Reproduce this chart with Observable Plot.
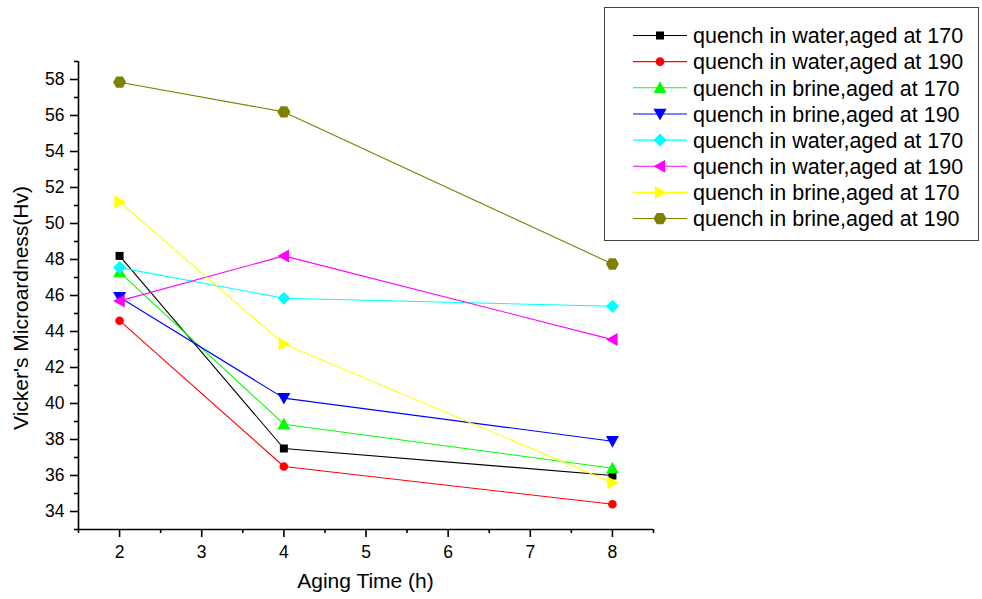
<!DOCTYPE html>
<html>
<head>
<meta charset="utf-8">
<script src="https://cdn.jsdelivr.net/npm/d3@7"></script>
<script src="https://cdn.jsdelivr.net/npm/@observablehq/plot@0.6"></script>
<style>
  html, body { margin: 0; padding: 0; background: #fff; }
  #chart { position: relative; width: 982px; height: 599px; }
  svg { font-family: "Liberation Sans", Arial, sans-serif; }
</style>
</head>
<body>
<div id="chart"></div>
<script>
// ---- data ----
const times = [2, 4, 8];
const seriesNames = [
  "quench in water,aged at 170",
  "quench in water,aged at 190",
  "quench in brine,aged at 170",
  "quench in brine,aged at 190",
  "quench in water,aged at 170",
  "quench in water,aged at 190",
  "quench in brine,aged at 170",
  "quench in brine,aged at 190"
];
const s1 = [48.2, 37.5, 36.0];
const s2 = [44.6, 36.5, 34.4];
const s3 = [47.3, 38.85, 36.4];
const s4 = [45.9, 40.3, 37.9];
const s5 = [47.55, 45.85, 45.4];
const s6 = [45.7, 48.2, 43.55];
const s7 = [51.2, 43.3, 35.6];
const s8 = [57.85, 56.2, 47.75];
const seriesValues = [s1, s2, s3, s4, s5, s6, s7, s8];
const colors = ["#000000", "#ff0000", "#00ff00", "#0000ff", "#00ffff", "#ff00ff", "#ffff00", "#808000"];
const xTicks = [2, 3, 4, 5, 6, 7, 8];
const xMinor = [1.5, 2.5, 3.5, 4.5, 5.5, 6.5, 7.5, 8.5];
const yTicks = [34, 36, 38, 40, 42, 44, 46, 48, 50, 52, 54, 56, 58];
const yMinor = [33, 35, 37, 39, 41, 43, 45, 47, 49, 51, 53, 55, 57, 59];
const xDomain = [1.5, 8.5];
const yDomain = [33, 59];

// ---- custom symbols (size = pi r^2) ----
const R = s => Math.sqrt(s / Math.PI);
const symSquare = {draw(c, s) { const r = R(s); c.rect(-r, -r, 2 * r, 2 * r); }};
const symCircle = {draw(c, s) { const r = R(s); c.moveTo(r, 0); c.arc(0, 0, r, 0, 2 * Math.PI); }};
const symUp = {draw(c, s) { const r = R(s); c.moveTo(0, -r); c.lineTo(r, 0.8 * r); c.lineTo(-r, 0.8 * r); c.closePath(); }};
const symDown = {draw(c, s) { const r = R(s); c.moveTo(0, r); c.lineTo(r, -0.8 * r); c.lineTo(-r, -0.8 * r); c.closePath(); }};
const symDiamond = {draw(c, s) { const r = R(s); c.moveTo(0, -r); c.lineTo(r, 0); c.lineTo(0, r); c.lineTo(-r, 0); c.closePath(); }};
const symLeft = {draw(c, s) { const r = R(s); c.moveTo(-r, 0); c.lineTo(0.8 * r, -r); c.lineTo(0.8 * r, r); c.closePath(); }};
const symRight = {draw(c, s) { const r = R(s); c.moveTo(r, 0); c.lineTo(-0.8 * r, -r); c.lineTo(-0.8 * r, r); c.closePath(); }};
const symHex = {draw(c, s) { const r = R(s); for (let i = 0; i < 6; i++) { const a = Math.PI / 3 * i; const x = r * Math.cos(a), y = r * Math.sin(a); i ? c.lineTo(x, y) : c.moveTo(x, y); } c.closePath(); }};
const symbols = [symSquare, symCircle, symUp, symDown, symDiamond, symLeft, symRight, symHex];
const radii = [4, 4.3, 6.5, 6.5, 6.5, 6.5, 6.5, 6.5];

const marks = [];
seriesValues.forEach((vals, i) => {
  const data = times.map((t, j) => ({t, v: vals[j]}));
  marks.push(Plot.line(data, {x: "t", y: "v", stroke: colors[i], strokeWidth: 1.1}));
  marks.push(Plot.dot(data, {x: "t", y: "v", fill: colors[i], stroke: "none", symbol: symbols[i], r: radii[i]}));
});

const chart = Plot.plot({
  width: 982,
  height: 599,
  marginLeft: 78,
  marginRight: 329,
  marginTop: 61,
  marginBottom: 70,
  style: {fontFamily: "'Liberation Sans', Arial, sans-serif", background: "#fff", overflow: "visible"},
  x: {domain: xDomain},
  y: {domain: yDomain},
  marks: [
    Plot.ruleX([xDomain[0]], {stroke: "#000", strokeWidth: 1.6}),
    Plot.ruleY([yDomain[0]], {stroke: "#000", strokeWidth: 1.6}),
    Plot.axisX({ticks: xTicks, tickSize: 8, tickPadding: 8, fontSize: 17.5, strokeWidth: 1.6, label: null, tickFormat: d => d}),
    Plot.axisX({ticks: xMinor, tickSize: 4, strokeWidth: 1.6, text: null, label: null}),
    Plot.axisY({ticks: yTicks, tickSize: 8, tickPadding: 6, fontSize: 17.5, strokeWidth: 1.6, label: null, tickFormat: d => d}),
    Plot.axisY({ticks: yMinor, tickSize: 4, strokeWidth: 1.6, text: null, label: null}),
    ...marks
  ]
});

const svg = d3.select(chart);
svg.selectAll("text").attr("fill", "#000");

// axis titles
svg.append("text").attr("x", 365.5).attr("y", 588).attr("text-anchor", "middle")
  .style("font-size", "21px").attr("fill", "#000").text("Aging Time (h)");
svg.append("text").attr("transform", "translate(28,308) rotate(-90)").attr("text-anchor", "middle")
  .style("font-size", "21px").attr("fill", "#000").text("Vicker's Microardness(Hv)");

// legend
const lg = svg.append("g");
lg.append("rect").attr("x", 604.5).attr("y", 7.5).attr("width", 374).attr("height", 233)
  .attr("fill", "#fff").attr("stroke", "#444").attr("stroke-width", 1);
seriesNames.forEach((name, i) => {
  const y = 35.5 + i * 26.15;
  lg.append("line").attr("x1", 633).attr("x2", 687).attr("y1", y).attr("y2", y)
    .attr("stroke", colors[i]).attr("stroke-width", 1.1);
  lg.append("path").attr("transform", `translate(660,${y})`)
    .attr("d", d3.symbol(symbols[i], Math.PI * radii[i] * radii[i])())
    .attr("fill", colors[i]);
  lg.append("text").attr("x", 693).attr("y", y).attr("dy", "0.36em").attr("text-anchor", "start")
    .style("font-size", "21.5px").attr("fill", "#000").text(name);
});

document.getElementById("chart").appendChild(chart);
</script>
</body>
</html>
